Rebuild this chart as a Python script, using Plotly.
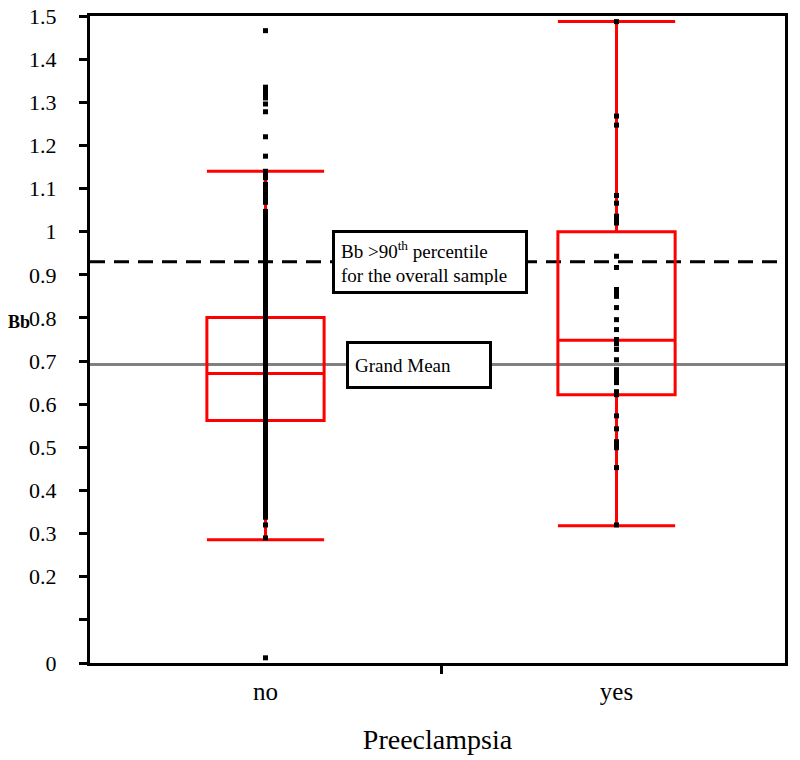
import plotly.graph_objects as go

# ---------------- data ----------------
categories = ["no", "yes"]
q1_vals = [0.562, 0.622]
median_vals = [0.671, 0.748]
q3_vals = [0.801, 1.000]
lower_whisker = [0.286, 0.318]
upper_whisker = [1.140, 1.487]

points_no = [1.466, 1.335, 1.327, 1.318, 1.31, 1.296, 1.278, 1.22, 1.175, 1.14,
             1.13, 1.125, 1.11, 1.105, 1.097, 1.09, 1.083, 1.075, 1.068, 1.047,
             1.04, 1.033, 1.025, 1.018, 1.01, 1.003, 0.996, 0.988, 0.981, 0.975,
             0.966, 0.958, 0.95, 0.943, 0.936, 0.928, 0.92, 0.913, 0.905, 0.898,
             0.89, 0.883, 0.876, 0.868, 0.86, 0.853, 0.846, 0.838, 0.83, 0.823,
             0.815, 0.808, 0.8, 0.793, 0.785, 0.778, 0.77, 0.763, 0.755, 0.748,
             0.74, 0.733, 0.725, 0.718, 0.71, 0.703, 0.695, 0.688, 0.68, 0.673,
             0.665, 0.658, 0.65, 0.643, 0.635, 0.628, 0.62, 0.613, 0.605, 0.598,
             0.59, 0.583, 0.575, 0.568, 0.56, 0.553, 0.545, 0.538, 0.53, 0.523,
             0.515, 0.508, 0.5, 0.493, 0.485, 0.478, 0.47, 0.463, 0.455, 0.448,
             0.44, 0.433, 0.425, 0.418, 0.41, 0.403, 0.395, 0.388, 0.38, 0.373,
             0.365, 0.358, 0.35, 0.343, 0.338, 0.32, 0.29, 0.012]
points_yes = [1.487, 1.268, 1.247, 1.084, 1.066, 1.036, 1.028, 1.02, 0.943, 0.917,
              0.866, 0.858, 0.85, 0.824, 0.796, 0.773, 0.75, 0.74, 0.727, 0.703,
              0.68, 0.673, 0.664, 0.655, 0.65, 0.629, 0.622, 0.573, 0.543, 0.513,
              0.506, 0.499, 0.453, 0.32]

grand_mean = 0.692
p90_value = 0.93

y_tickvals = [0, 0.1, 0.2, 0.3, 0.4, 0.5, 0.6, 0.7, 0.8, 0.9, 1.0, 1.1, 1.2, 1.3, 1.4, 1.5]
y_ticktext = ["0", "", "0.2", "0.3", "0.4", "0.5", "0.6", "0.7", "0.8", "0.9", "1",
              "1.1", "1.2", "1.3", "1.4", "1.5"]

x_title = "Preeclampsia"
y_title = "Bb"
p90_label = "Bb >90<sup>th</sup> percentile<br>for the overall sample"
mean_label = "Grand Mean"

# ---------------- figure ----------------
positions = list(range(len(categories)))
FONT = "Liberation Serif, Times New Roman, serif"

fig = go.Figure()

fig.add_trace(go.Box(
    x=positions, q1=q1_vals, median=median_vals, q3=q3_vals,
    lowerfence=lower_whisker, upperfence=upper_whisker,
    line=dict(color="#ff0000", width=3), fillcolor="rgba(0,0,0,0)",
    width=0.334, whiskerwidth=1, boxpoints=False, showlegend=False,
))

fig.add_trace(go.Scatter(
    x=[positions[0]] * len(points_no), y=points_no, mode="markers",
    marker=dict(symbol="square", size=5, color="black"), showlegend=False,
))
fig.add_trace(go.Scatter(
    x=[positions[1]] * len(points_yes), y=points_yes, mode="markers",
    marker=dict(symbol="square", size=5, color="black"), showlegend=False,
))

fig.add_hline(y=grand_mean, line=dict(color="#808080", width=3), layer="below")
fig.add_hline(y=p90_value, line=dict(color="black", width=3, dash="15px,9px"), layer="below")

fig.add_annotation(
    x=0.489, xref="paper", y=p90_value, yref="y", text=p90_label, showarrow=False,
    align="left", width=178, height=46, borderpad=6,
    bordercolor="black", borderwidth=3, bgcolor="white",
    font=dict(family=FONT, size=19, color="black"),
)
fig.add_annotation(
    x=0.473, xref="paper", y=grand_mean, yref="y", text=mean_label, showarrow=False,
    align="left", width=128, height=30, borderpad=6,
    bordercolor="black", borderwidth=3, bgcolor="white",
    font=dict(family=FONT, size=19, color="black"),
)
fig.add_annotation(
    x=-0.121, xref="paper", y=0.79, yref="y", text="<b>" + y_title + "</b>",
    showarrow=False, xanchor="left",
    font=dict(family=FONT, size=18, color="black"),
)

fig.update_layout(
    width=800, height=760,
    margin=dict(l=90, r=15, t=16, b=97),
    paper_bgcolor="white", plot_bgcolor="white",
    font=dict(family=FONT, color="black"),
    xaxis=dict(
        range=[-0.5, 1.48], tickvals=positions, ticktext=categories,
        ticks="outside", ticklen=4, tickcolor="rgba(0,0,0,0)",
        minor=dict(tickvals=[0.5], ticks="outside", ticklen=8, tickwidth=3, tickcolor="black"),
        showline=True, linecolor="black", linewidth=3, mirror=True,
        showgrid=False, zeroline=False, automargin=False,
        tickfont=dict(family=FONT, size=25, color="black"),
        title=dict(text=x_title, font=dict(family=FONT, size=28, color="black"), standoff=26),
    ),
    yaxis=dict(
        range=[0, 1.5], tickvals=y_tickvals, ticktext=y_ticktext,
        ticks="outside", ticklen=8, tickwidth=3, tickcolor="black",
        showline=True, linecolor="black", linewidth=3, mirror=True,
        showgrid=False, zeroline=False, ticklabelstandoff=18, automargin=False,
        ticklabeloverflow="allow",
        tickfont=dict(family=FONT, size=22, color="black"),
    ),
)

fig.write_html("out.html", config={"displayModeBar": False},
               post_script="document.body.style.margin='0';")
